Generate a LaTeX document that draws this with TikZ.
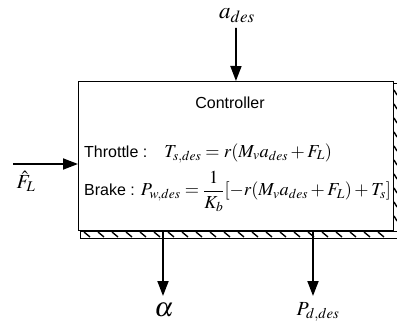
\documentclass[tikz,border=0pt]{standalone}
\usepackage{mathptmx}
\usepackage{fontspec}
\newfontfamily\arialfont{Liberation Sans}
\usetikzlibrary{arrows.meta}

\newcommand{\eqsize}{\fontsize{18.3}{20}\selectfont}

\begin{document}
\begin{tikzpicture}[x=1pt, y=-1pt,
    arr/.style = {line width=1.8pt, -{Triangle[length=15pt, width=11pt]}},
    lbl/.style = {font=\arialfont\fontsize{16}{18}\selectfont, inner sep=0pt},
    sig/.style = {font=\fontsize{20}{22}\selectfont, inner sep=0pt}]
    \useasboundingbox (0,0) rectangle (397,329);

    % Controller box
    \node[draw, line width=0.9pt, anchor=north west, inner sep=0pt,
          minimum width=315pt, minimum height=149pt] (ctrl) at (78,81) {};

    % Hatched shadow
    \draw[line width=0.7pt] (80,231) rectangle (397,238);
    \draw[line width=0.7pt] (393,83) -- (397,83) -- (397,238);
    \foreach \x in {84,98,...,388} \draw[line width=1.4pt] (\x,232) -- (\x+6,237);
    \foreach \y in {90,104,...,226} \draw[line width=1.4pt] (394,\y) -- (397,\y+5);

    % Texts in the box
    \node[lbl] (title) at (230,103) {Controller};
    \node[lbl, anchor=west] (thr) at (84,153)
        {Throttle :\hspace{17pt}{\eqsize$T_{s,des}=r(M_v a_{des}+F_L)$}};
    \node[lbl, anchor=west] (brk) at (84,191)
        {Brake : {\eqsize$P_{w,des}=\displaystyle\frac{1}{K_b}[-r(M_v a_{des}+F_L)+T_s]$}};

    % Inputs
    \node[sig, font=\fontsize{23}{25}\selectfont] (ades) at (237,16) {$a_{des}$};
    \coordinate (ain) at (236,28);
    \draw[arr] (ain) -- (ctrl.north);

    \node[sig] (fl) at (26,181) {$\hat{F}_L$};
    \coordinate (fin) at (13,164);
    \draw[arr] (fin) -- (fin -| ctrl.west);

    % Outputs
    \coordinate (aout) at (163,296);
    \draw[arr] (aout |- ctrl.south) -- (aout);
    \node[sig, font=\fontsize{27}{29}\selectfont] (alpha) at (164,310) {$\alpha$};

    \coordinate (pout) at (313,296);
    \draw[arr] (pout |- ctrl.south) -- (pout);
    \node[sig] (pdes) at (318,312) {$P_{d,des}$};
\end{tikzpicture}
\end{document}
